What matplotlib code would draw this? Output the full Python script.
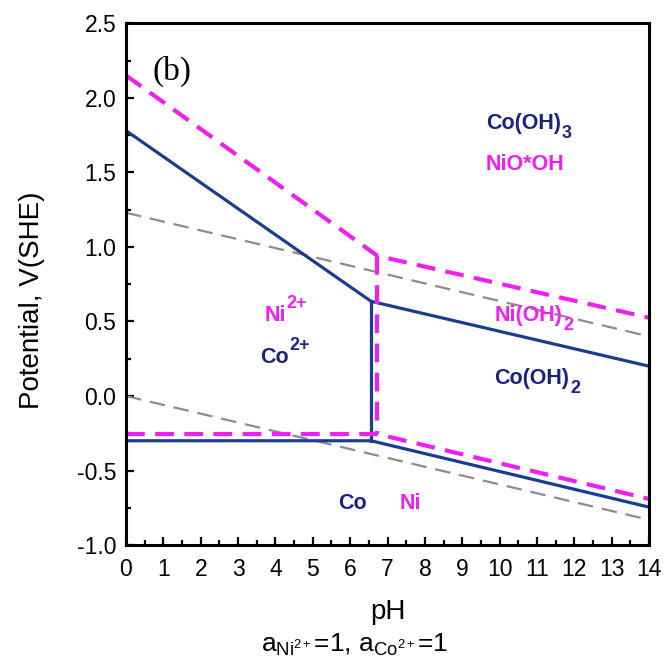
import numpy as np
import matplotlib.pyplot as plt
from matplotlib.ticker import MultipleLocator

plt.rcParams['font.family'] = ['Liberation Sans', 'DejaVu Sans']
plt.rcParams['mathtext.fontset'] = 'custom'
plt.rcParams['mathtext.rm'] = 'Liberation Sans'
plt.rcParams['mathtext.bf'] = 'Liberation Sans:bold'
plt.rcParams['mathtext.it'] = 'Liberation Sans:italic'
plt.rcParams['axes.unicode_minus'] = False

# ---- Co boundaries (solid blue) ----
co_upper_ph = [0, 6.56, 14]
co_upper_v = [1.78, 0.635, 0.20]
co_lower_ph = [0, 6.56, 14]
co_lower_v = [-0.30, -0.30, -0.745]
co_vert_ph = [6.56, 6.56]
co_vert_v = [0.635, -0.30]
co_edge_ph = [14, 14]
co_edge_v = [0.20, -0.745]

# ---- Ni boundaries (dashed magenta) ----
ni_upper_ph = [0, 6.73, 14]
ni_upper_v = [2.15, 0.94, 0.525]
ni_lower_ph = [0, 6.73, 14]
ni_lower_v = [-0.255, -0.255, -0.69]
ni_vert_ph = [6.73, 6.73]
ni_vert_v = [0.94, -0.255]

# ---- water stability lines (dashed gray) ----
o2_ph = [0, 14]
o2_v = [1.229, 0.40]
h2_ph = [0, 14]
h2_v = [0.0, -0.83]

navy = '#1b3d91'
navy_txt = '#1a2380'
magenta = '#f01ef0'

fig = plt.figure(figsize=(6.63, 6.64), dpi=100)
ax = fig.add_axes([0.190, 0.179, 0.789, 0.786])

ax.plot(o2_ph, o2_v, color='#8c8c8c', lw=1.6, dashes=(7, 4))
ax.plot(h2_ph, h2_v, color='#8c8c8c', lw=1.6, dashes=(7, 4))

for xs, ys in [(co_upper_ph, co_upper_v), (co_lower_ph, co_lower_v),
               (co_vert_ph, co_vert_v), (co_edge_ph, co_edge_v)]:
    ax.plot(xs, ys, color=navy, lw=2.3, solid_joinstyle='miter')

for xs, ys in [(ni_upper_ph, ni_upper_v), (ni_lower_ph, ni_lower_v),
               (ni_vert_ph, ni_vert_v)]:
    ax.plot(xs, ys, color=magenta, lw=3.0, dashes=(4.5, 2.5))

ax.set_xlim(0, 14)
ax.set_ylim(-1.0, 2.5)
ax.xaxis.set_major_locator(MultipleLocator(1))
ax.xaxis.set_minor_locator(MultipleLocator(0.5))
ax.yaxis.set_major_locator(MultipleLocator(0.5))
ax.yaxis.set_minor_locator(MultipleLocator(0.25))
ax.tick_params(which='both', direction='in', top=False, right=False,
               labelsize=16.5, width=1.6)
ax.tick_params(which='major', length=6)
ax.tick_params(axis='x', which='major', pad=9)
ax.tick_params(axis='y', which='major', pad=7)
ax.tick_params(which='minor', length=3.5)
for s in ax.spines.values():
    s.set_linewidth(2.2)

ax.set_xlabel('pH', fontsize=20, labelpad=13)
ax.set_ylabel('Potential, V(SHE)', fontsize=20)
ax.yaxis.set_label_coords(-0.155, 0.47)

ax.text(0.7, 2.18, '(b)', family='Liberation Serif', fontsize=24, va='center')

lab = dict(fontsize=15.5, fontweight='bold', va='center')


def chem(x, y, base, color, sub=None, sup=None, ha='left'):
    t = ax.text(x, y, base, color=color, ha=ha, **lab)
    if sub:
        ax.annotate(sub, xy=(1.0, 0.2), xycoords=t, xytext=(0.5, -3),
                    textcoords='offset points', color=color, fontsize=13,
                    fontweight='bold', va='center', ha='left')
    if sup:
        ax.annotate(sup, xy=(1.0, 0.85), xycoords=t, xytext=(0.5, 3),
                    textcoords='offset points', color=color, fontsize=13,
                    fontweight='bold', va='center', ha='left')


chem(9.63, 1.83, 'Co(OH)', navy_txt, sub='3')
chem(9.63, 1.55, 'NiO*OH', magenta)
chem(3.7, 0.54, 'Ni', magenta, sup='2+')
chem(3.58, 0.26, 'Co', navy_txt, sup='2+')
chem(9.86, 0.54, 'Ni(OH)', magenta, sub='2')
chem(9.86, 0.12, 'Co(OH)', navy_txt, sub='2')
chem(6.05, -0.72, 'Co', navy_txt, ha='center')
chem(7.62, -0.72, 'Ni', magenta, ha='center')

fig.text(0.535, 0.018,
         r'a$_{\mathregular{Ni^{2+}}}$=1, a$_{\mathregular{Co^{2+}}}$=1',
         fontsize=19, ha='center', va='baseline')

fig.savefig('out.png', dpi=100)
